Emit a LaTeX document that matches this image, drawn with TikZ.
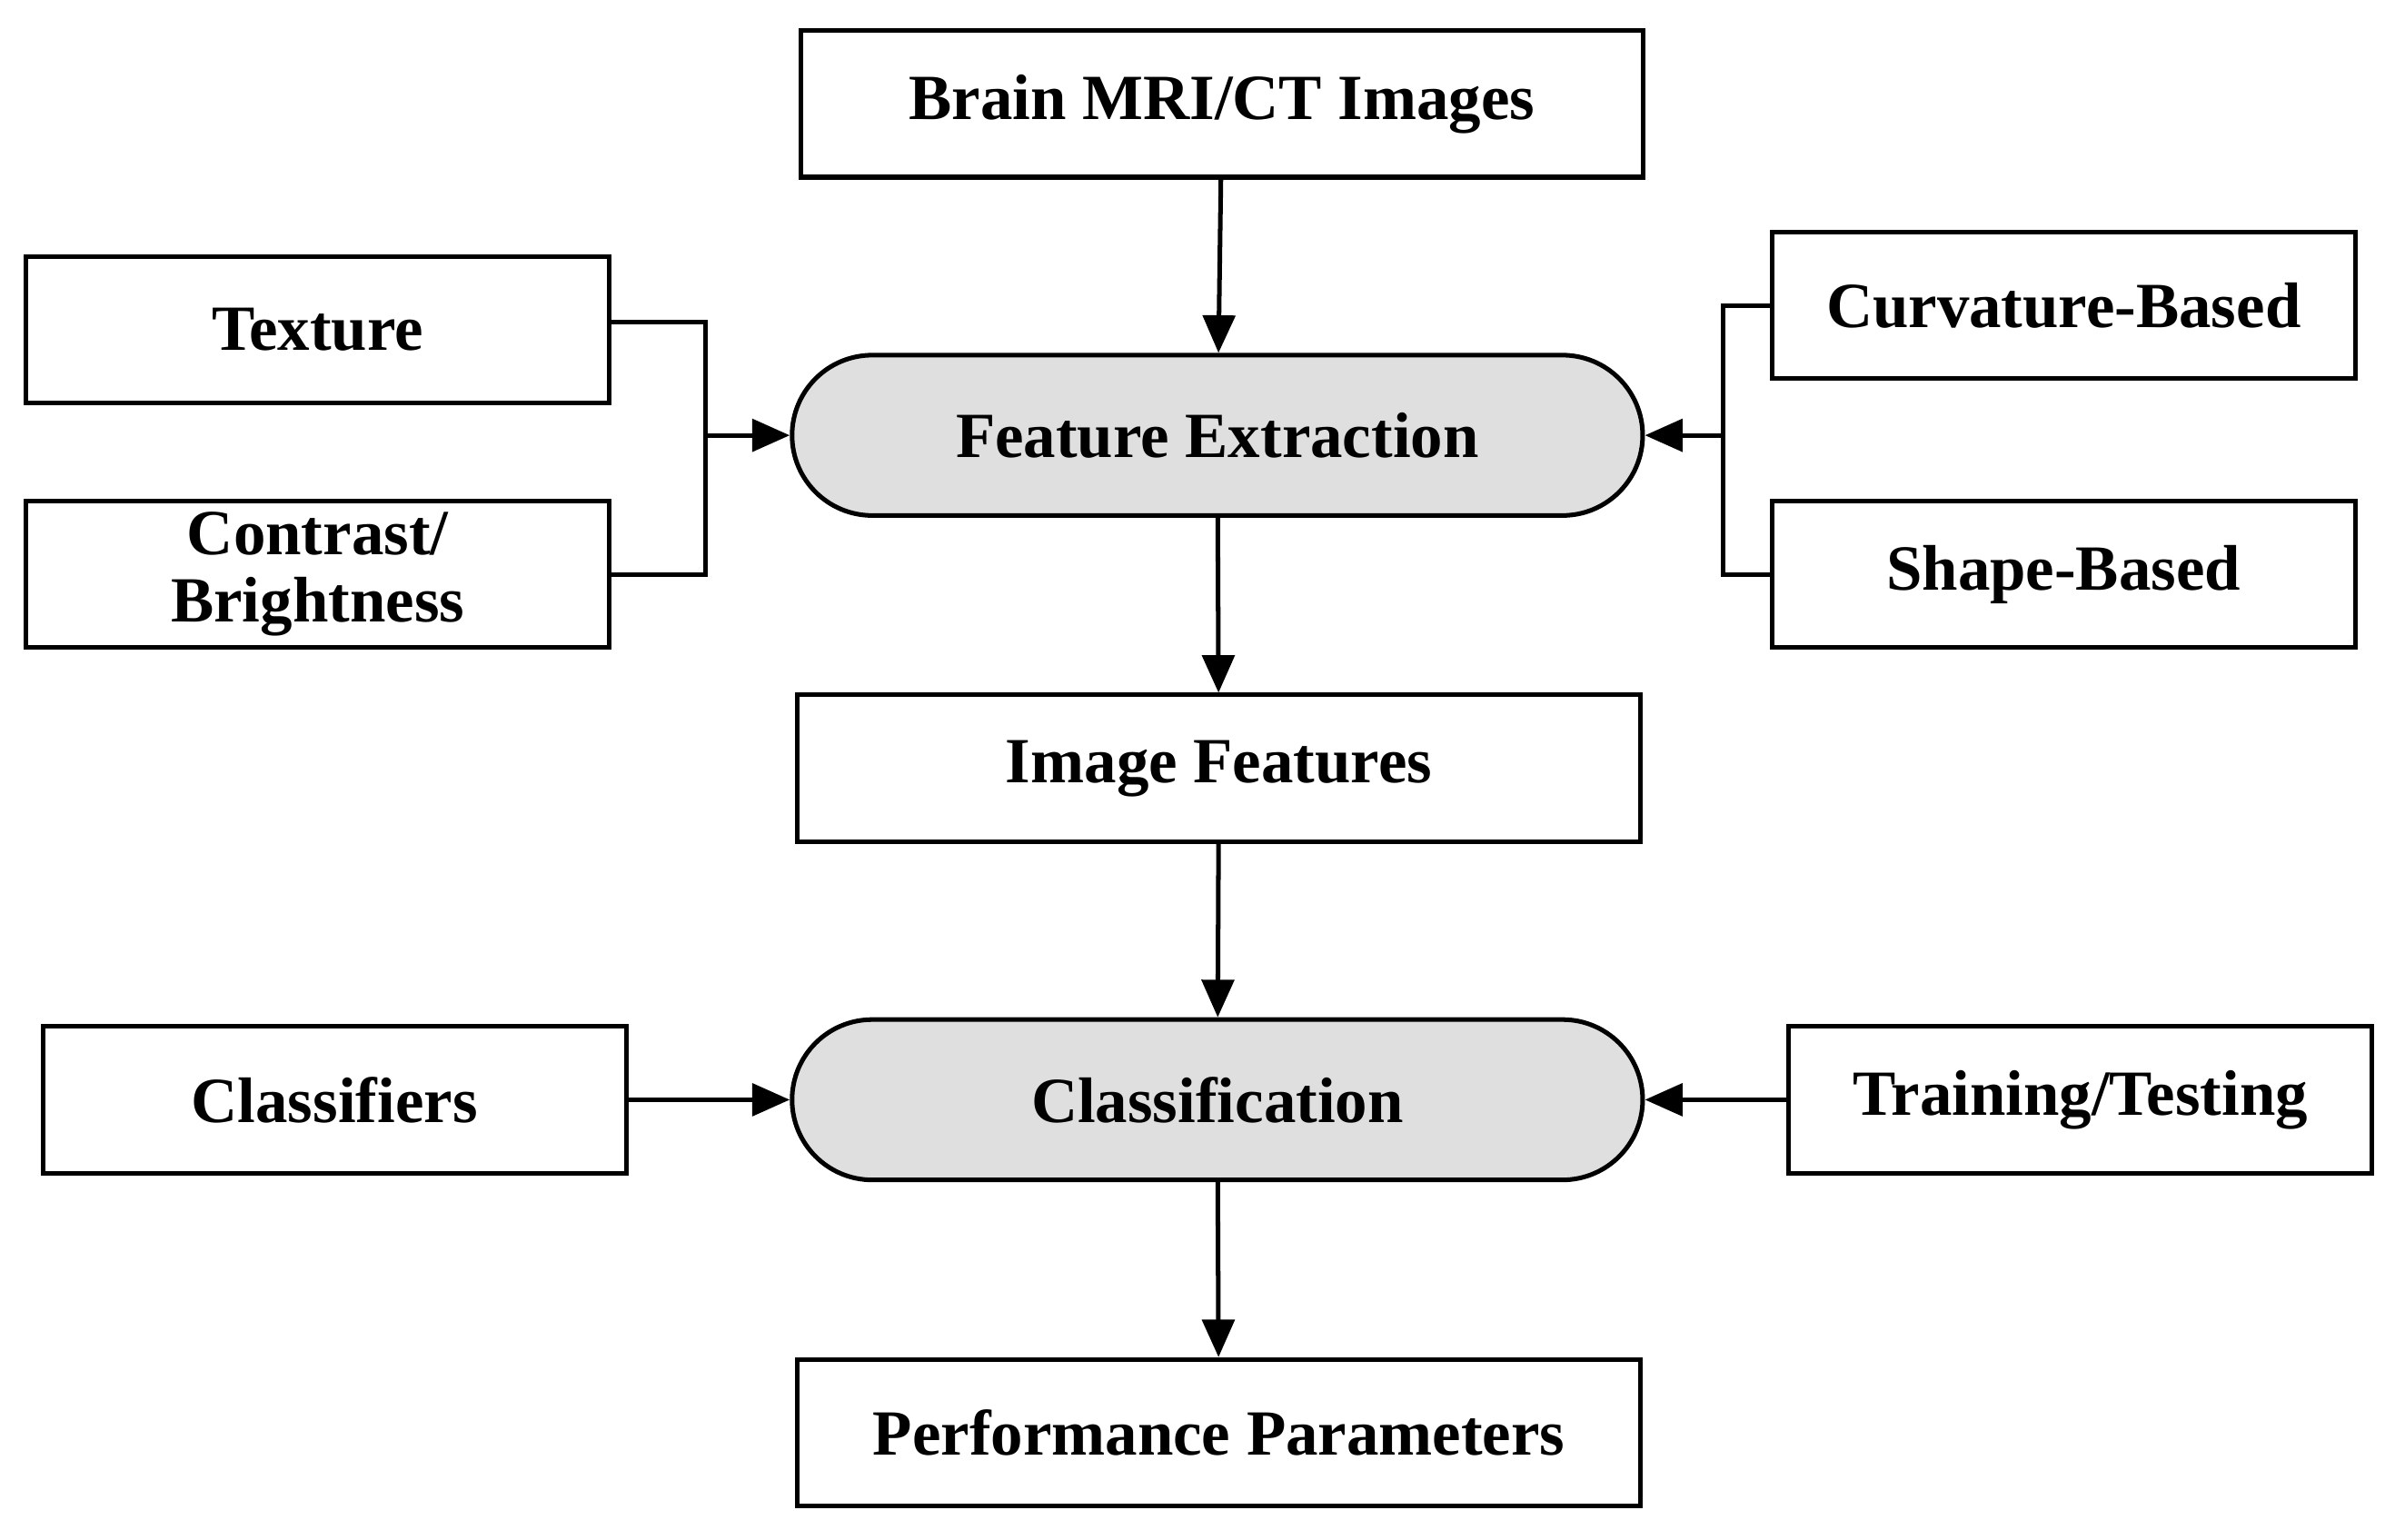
\documentclass[tikz,border=0pt]{standalone}
\usepackage{fontspec}
\setmainfont{Liberation Serif}
\usetikzlibrary{arrows.meta}
\begin{document}
\begin{tikzpicture}[x=0.02cm,y=-0.02cm,
 box/.style={draw,line width=1.7pt,minimum width=382\pgflinewidth,inner sep=0pt,font=\fontsize{24}{25}\selectfont\bfseries,align=center},
 bx/.style={box,minimum width=7.64cm,minimum height=1.92cm},
 wide/.style={box,minimum width=11.04cm,minimum height=1.92cm},
 pill/.style={box,minimum width=11.14cm,minimum height=2.1cm,rounded corners=1.05cm,fill=gray!25},
 ln/.style={line width=1.7pt},
 ar/.style={ln,-{Triangle[length=14pt,width=12pt]}}]
\useasboundingbox (0,0) rectangle (1568,1008);
\node[wide] (brain) at (800,68) {Brain MRI/CT Images};
\node[pill] (fe) at (797,285) {Feature Extraction};
\node[bx] (tex) at (208,216) {Texture};
\node[bx] (con) at (208,376) {Contrast/\\Brightness};
\node[bx] (cur) at (1351,200) {Curvature-Based};
\node[bx] (sha) at (1351,376) {Shape-Based};
\node[wide] (imf) at (798,503) {Image Features};
\node[pill] (cls) at (797,720) {Classification};
\node[bx] (clf) at (219,720) {Classifiers};
\node[bx] (tt) at (1362,720) {Training/Testing};
\node[wide] (perf) at (798,938) {Performance Parameters};
\coordinate (jl) at (462,285);
\coordinate (jr) at (1128,285);
\draw[ar] (brain) -- (fe);
\draw[ar] (fe) -- (imf);
\draw[ar] (imf) -- (cls);
\draw[ar] (cls) -- (perf);
\draw[ln] (tex.east |- 0,211) -| (jl) |- (con.east);
\draw[ar] (jl) -- (fe.west);
\draw[ln] (cur.west) -| (jr) |- (sha.west);
\draw[ar] (jr) -- (fe.east);
\draw[ar] (clf) -- (cls);
\draw[ar] (tt) -- (cls);
\end{tikzpicture}
\end{document}
